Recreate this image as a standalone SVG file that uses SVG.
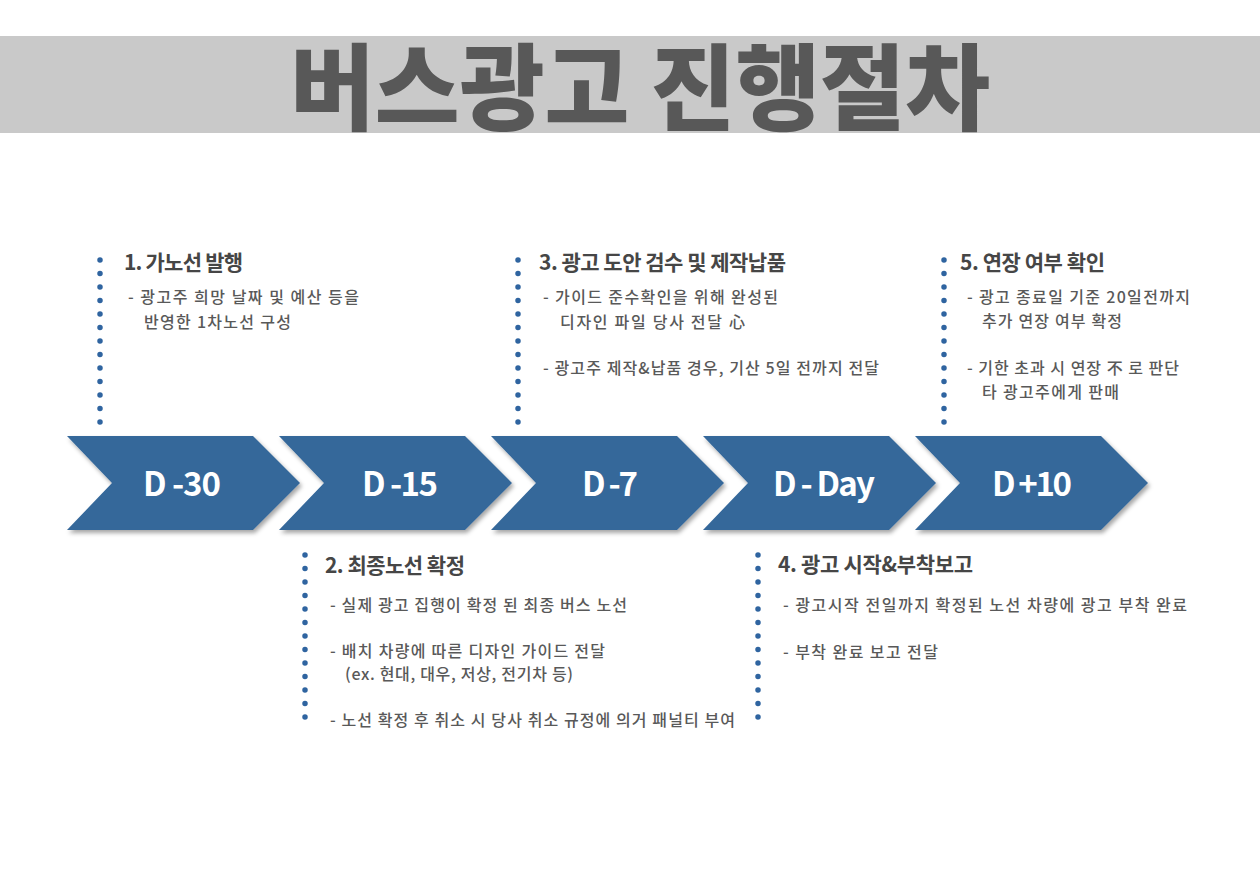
<svg xmlns="http://www.w3.org/2000/svg" width="1260" height="891" viewBox="0 0 1260 891">
<defs>
<filter id="sh" x="-5%" y="-10%" width="115%" height="130%">
<feDropShadow dx="2" dy="3" stdDeviation="2" flood-color="#000" flood-opacity="0.35"/>
</filter>
<path id="chev" d="M0,0 L186,0 L233,47 L186,94 L0,94 L45,47 Z"/>
</defs>
<style>
.title{font-family:"Noto Sans CJK KR","Noto Sans",sans-serif;font-weight:900;font-size:94px;fill:#585858}
.chev{fill:#34679a;filter:url(#sh)}
.lbl{font-family:"Noto Sans CJK KR","Noto Sans",sans-serif;font-weight:700;font-size:33px;fill:#ffffff;text-anchor:middle}
.hd{font-family:"Noto Sans CJK KR","Noto Sans",sans-serif;font-weight:700;font-size:21px;fill:#464646}
.bd{font-family:"Noto Sans CJK KR","Noto Sans",sans-serif;font-weight:500;font-size:16px;fill:#595959}
.dots{stroke:#2f64a0;stroke-width:5.5;stroke-linecap:round;stroke-dasharray:0 13.5;fill:none}
</style>
<rect width="1260" height="891" fill="#ffffff"/>
<g id="title">
<rect x="0" y="36" width="1260" height="97" fill="#c9c9c9"/>
<text class="title" x="290" y="123" textLength="700" lengthAdjust="spacingAndGlyphs">버스광고 진행절차</text>
</g>
<g id="connectors">
<line class="dots" x1="100" y1="260" x2="100" y2="424"/>
<line class="dots" x1="518" y1="260" x2="518" y2="424"/>
<line class="dots" x1="944" y1="260" x2="944" y2="424"/>
<line class="dots" x1="305" y1="555" x2="305" y2="719"/>
<line class="dots" x1="758" y1="555" x2="758" y2="719"/>
</g>
<g id="d-30">
<use href="#chev" class="chev" x="67" y="436"/>
<text class="lbl" x="182" y="496" textLength="78">D -30</text>
</g>
<g id="d-15">
<use href="#chev" class="chev" x="279" y="436"/>
<text class="lbl" x="400" y="496" textLength="76">D -15</text>
</g>
<g id="d-7">
<use href="#chev" class="chev" x="491" y="436"/>
<text class="lbl" x="610" y="496" textLength="56">D -7</text>
</g>
<g id="d-day">
<use href="#chev" class="chev" x="703" y="436"/>
<text class="lbl" x="824" y="496" textLength="102">D - Day</text>
</g>
<g id="d+10">
<use href="#chev" class="chev" x="915" y="436"/>
<text class="lbl" x="1032" y="496" textLength="80">D +10</text>
</g>
<g id="step1">
<text class="hd" x="124" y="270" textLength="119">1. 가노선 발행</text>
<text class="bd" x="128" y="303" textLength="231">- 광고주 희망 날짜 및 예산 등을</text>
<text class="bd" x="144" y="328" textLength="147">반영한 1차노선 구성</text>
</g>
<g id="step3">
<text class="hd" x="539" y="270" textLength="247">3. 광고 도안 검수 및 제작납품</text>
<text class="bd" x="543" y="303" textLength="235">- 가이드 준수확인을 위해 완성된</text>
<text class="bd" x="560" y="328" textLength="185">디자인 파일 당사 전달 心</text>
<text class="bd" x="543" y="374" textLength="336">- 광고주 제작&amp;납품 경우, 기산 5일 전까지 전달</text>
</g>
<g id="step5">
<text class="hd" x="960" y="270" textLength="145">5. 연장 여부 확인</text>
<text class="bd" x="967" y="303" textLength="223">- 광고 종료일 기준 20일전까지</text>
<text class="bd" x="982" y="327" textLength="140">추가 연장 여부 확정</text>
<text class="bd" x="967" y="374" textLength="212">- 기한 초과 시 연장 不 로 판단</text>
<text class="bd" x="982" y="398" textLength="137">타 광고주에게 판매</text>
</g>
<g id="step2">
<text class="hd" x="325" y="573" textLength="140">2. 최종노선 확정</text>
<text class="bd" x="330" y="611" textLength="297">- 실제 광고 집행이 확정 된 최종 버스 노선</text>
<text class="bd" x="330" y="657" textLength="275">- 배치 차량에 따른 디자인 가이드 전달</text>
<text class="bd" x="345" y="680" textLength="228">(ex. 현대, 대우, 저상, 전기차 등)</text>
<text class="bd" x="330" y="726" textLength="405">- 노선 확정 후 취소 시 당사 취소 규정에 의거 패널티 부여</text>
</g>
<g id="step4">
<text class="hd" x="778" y="572" textLength="195">4. 광고 시작&amp;부착보고</text>
<text class="bd" x="783" y="611" textLength="404">- 광고시작 전일까지 확정된 노선 차량에 광고 부착 완료</text>
<text class="bd" x="783" y="658" textLength="155">- 부착 완료 보고 전달</text>
</g>
</svg>
